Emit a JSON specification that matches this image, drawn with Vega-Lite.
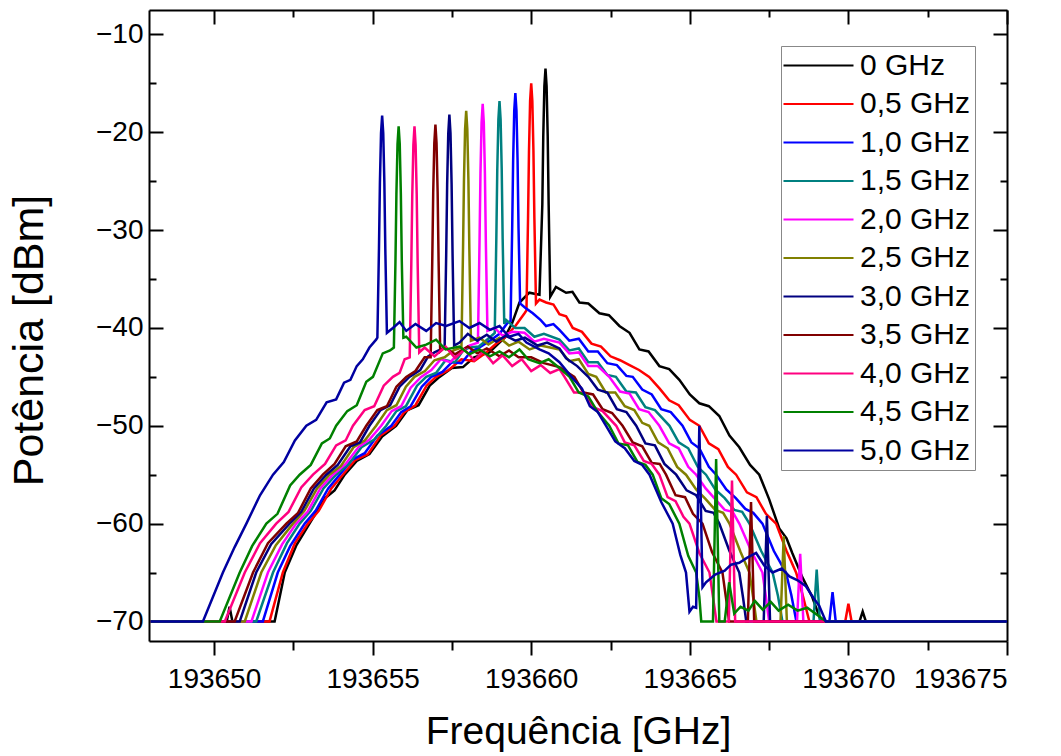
{
"$schema": "https://vega.github.io/schema/vega-lite/v6.json",
"width": 858, "height": 631,
"autosize": {"type": "none"},
"padding": {"left": 149, "top": 10, "right": 54, "bottom": 115},
"background": "white",
"config": {
  "view": {"stroke": null},
  "font": "Liberation Sans",
  "axis": {"labelFont": "Liberation Sans", "labelFontSize": 28, "labelColor": "black", "titleFont": "Liberation Sans", "titleFontWeight": "normal", "titleColor": "black", "domainColor": "black", "domainWidth": 2, "tickColor": "black", "tickWidth": 2, "grid": false},
  "legend": {"labelFont": "Liberation Sans", "labelColor": "black"}
},
"data": {"values": [
{"s":"0 GHz","f":193648,"p":-70},{"s":"0 GHz","f":193650.4,"p":-70},{"s":"0 GHz","f":193650.49,"p":-68.5},{"s":"0 GHz","f":193650.58,"p":-70},{"s":"0 GHz","f":193651.91,"p":-70},{"s":"0 GHz","f":193652.23,"p":-65},{"s":"0 GHz","f":193652.6,"p":-62.2},{"s":"0 GHz","f":193653.01,"p":-60},{"s":"0 GHz","f":193653.5,"p":-57.4},{"s":"0 GHz","f":193653.8,"p":-56.6},{"s":"0 GHz","f":193654.12,"p":-55},{"s":"0 GHz","f":193654.5,"p":-53.6},{"s":"0 GHz","f":193654.9,"p":-52.9},{"s":"0 GHz","f":193655.3,"p":-51.1},{"s":"0 GHz","f":193655.74,"p":-50},{"s":"0 GHz","f":193656.1,"p":-48.4},{"s":"0 GHz","f":193656.45,"p":-47.9},{"s":"0 GHz","f":193656.8,"p":-45.9},{"s":"0 GHz","f":193657.11,"p":-45},{"s":"0 GHz","f":193657.5,"p":-44.1},{"s":"0 GHz","f":193657.85,"p":-44.0},{"s":"0 GHz","f":193658.2,"p":-43.0},{"s":"0 GHz","f":193658.68,"p":-42.5},{"s":"0 GHz","f":193659.16,"p":-41},{"s":"0 GHz","f":193659.4,"p":-39.5},{"s":"0 GHz","f":193659.63,"p":-37.4},{"s":"0 GHz","f":193659.94,"p":-36.4},{"s":"0 GHz","f":193660.26,"p":-36.6},{"s":"0 GHz","f":193660.35,"p":-27.4},{"s":"0 GHz","f":193660.38,"p":-20.4},{"s":"0 GHz","f":193660.415,"p":-15.3},{"s":"0 GHz","f":193660.45,"p":-13.5},{"s":"0 GHz","f":193660.485,"p":-15.3},{"s":"0 GHz","f":193660.52,"p":-20.4},{"s":"0 GHz","f":193660.55,"p":-27.4},{"s":"0 GHz","f":193660.6,"p":-36.8},{"s":"0 GHz","f":193660.78,"p":-35.8},{"s":"0 GHz","f":193661.1,"p":-36.4},{"s":"0 GHz","f":193661.3,"p":-36.3},{"s":"0 GHz","f":193661.52,"p":-37.4},{"s":"0 GHz","f":193661.8,"p":-37.5},{"s":"0 GHz","f":193662.15,"p":-38.5},{"s":"0 GHz","f":193662.45,"p":-38.7},{"s":"0 GHz","f":193662.78,"p":-39.8},{"s":"0 GHz","f":193663.1,"p":-40.5},{"s":"0 GHz","f":193663.41,"p":-42.2},{"s":"0 GHz","f":193663.7,"p":-42.4},{"s":"0 GHz","f":193664.04,"p":-43.9},{"s":"0 GHz","f":193664.35,"p":-44.2},{"s":"0 GHz","f":193664.67,"p":-45.3},{"s":"0 GHz","f":193665.0,"p":-46.8},{"s":"0 GHz","f":193665.3,"p":-47.7},{"s":"0 GHz","f":193665.6,"p":-48.0},{"s":"0 GHz","f":193665.93,"p":-49.0},{"s":"0 GHz","f":193666.25,"p":-51.0},{"s":"0 GHz","f":193666.56,"p":-52.2},{"s":"0 GHz","f":193666.9,"p":-54.0},{"s":"0 GHz","f":193667.19,"p":-55},{"s":"0 GHz","f":193667.5,"p":-57.5},{"s":"0 GHz","f":193667.82,"p":-60.5},{"s":"0 GHz","f":193668.05,"p":-61.5},{"s":"0 GHz","f":193668.23,"p":-63},{"s":"0 GHz","f":193668.55,"p":-65.5},{"s":"0 GHz","f":193668.86,"p":-67.5},{"s":"0 GHz","f":193669.14,"p":-70},{"s":"0 GHz","f":193670.35,"p":-70},{"s":"0 GHz","f":193670.45,"p":-69},{"s":"0 GHz","f":193670.55,"p":-70},{"s":"0 GHz","f":193675,"p":-70},

{"s":"0,5 GHz","f":193648,"p":-70},{"s":"0,5 GHz","f":193651.75,"p":-70},{"s":"0,5 GHz","f":193652.17,"p":-65},{"s":"0,5 GHz","f":193652.55,"p":-62.0},{"s":"0,5 GHz","f":193652.96,"p":-60},{"s":"0,5 GHz","f":193653.3,"p":-58.7},{"s":"0,5 GHz","f":193653.7,"p":-56.4},{"s":"0,5 GHz","f":193654.06,"p":-55},{"s":"0,5 GHz","f":193654.45,"p":-53.5},{"s":"0,5 GHz","f":193654.85,"p":-52.9},{"s":"0,5 GHz","f":193655.25,"p":-51.0},{"s":"0,5 GHz","f":193655.69,"p":-50},{"s":"0,5 GHz","f":193656.0,"p":-48.6},{"s":"0,5 GHz","f":193656.35,"p":-47.9},{"s":"0,5 GHz","f":193656.7,"p":-45.9},{"s":"0,5 GHz","f":193657.0,"p":-45},{"s":"0,5 GHz","f":193657.4,"p":-44.3},{"s":"0,5 GHz","f":193657.8,"p":-43.2},{"s":"0,5 GHz","f":193658.2,"p":-43.4},{"s":"0,5 GHz","f":193658.58,"p":-42.5},{"s":"0,5 GHz","f":193658.9,"p":-41.6},{"s":"0,5 GHz","f":193659.16,"p":-41},{"s":"0,5 GHz","f":193659.5,"p":-39.8},{"s":"0,5 GHz","f":193659.79,"p":-38.5},{"s":"0,5 GHz","f":193659.85,"p":-38.2},{"s":"0,5 GHz","f":193659.9,"p":-28.8},{"s":"0,5 GHz","f":193659.93,"p":-21.9},{"s":"0,5 GHz","f":193659.965,"p":-16.8},{"s":"0,5 GHz","f":193660.0,"p":-15.0},{"s":"0,5 GHz","f":193660.035,"p":-16.8},{"s":"0,5 GHz","f":193660.07,"p":-21.9},{"s":"0,5 GHz","f":193660.1,"p":-28.8},{"s":"0,5 GHz","f":193660.15,"p":-37.5},{"s":"0,5 GHz","f":193660.26,"p":-37.1},{"s":"0,5 GHz","f":193660.47,"p":-37.4},{"s":"0,5 GHz","f":193660.7,"p":-37.6},{"s":"0,5 GHz","f":193660.89,"p":-38.6},{"s":"0,5 GHz","f":193661.1,"p":-38.8},{"s":"0,5 GHz","f":193661.31,"p":-40},{"s":"0,5 GHz","f":193661.6,"p":-40.4},{"s":"0,5 GHz","f":193661.9,"p":-41.6},{"s":"0,5 GHz","f":193662.2,"p":-41.9},{"s":"0,5 GHz","f":193662.5,"p":-42.9},{"s":"0,5 GHz","f":193662.8,"p":-43.3},{"s":"0,5 GHz","f":193663.1,"p":-43.8},{"s":"0,5 GHz","f":193663.4,"p":-44.3},{"s":"0,5 GHz","f":193663.72,"p":-45},{"s":"0,5 GHz","f":193664.05,"p":-46.2},{"s":"0,5 GHz","f":193664.35,"p":-47.4},{"s":"0,5 GHz","f":193664.65,"p":-47.9},{"s":"0,5 GHz","f":193665.0,"p":-49.4},{"s":"0,5 GHz","f":193665.3,"p":-50},{"s":"0,5 GHz","f":193665.6,"p":-51.8},{"s":"0,5 GHz","f":193665.9,"p":-52.4},{"s":"0,5 GHz","f":193666.2,"p":-54.2},{"s":"0,5 GHz","f":193666.46,"p":-55},{"s":"0,5 GHz","f":193666.8,"p":-56.8},{"s":"0,5 GHz","f":193667.1,"p":-57.3},{"s":"0,5 GHz","f":193667.4,"p":-59.0},{"s":"0,5 GHz","f":193667.72,"p":-60},{"s":"0,5 GHz","f":193668.05,"p":-62.8},{"s":"0,5 GHz","f":193668.35,"p":-65},{"s":"0,5 GHz","f":193668.55,"p":-67.2},{"s":"0,5 GHz","f":193668.77,"p":-70},{"s":"0,5 GHz","f":193669.9,"p":-70},{"s":"0,5 GHz","f":193670.0,"p":-68.2},{"s":"0,5 GHz","f":193670.1,"p":-70},{"s":"0,5 GHz","f":193675,"p":-70},

{"s":"1,0 GHz","f":193648,"p":-70},{"s":"1,0 GHz","f":193651.54,"p":-70},{"s":"1,0 GHz","f":193652.01,"p":-65},{"s":"1,0 GHz","f":193652.4,"p":-62.3},{"s":"1,0 GHz","f":193652.86,"p":-60},{"s":"1,0 GHz","f":193653.2,"p":-58.7},{"s":"1,0 GHz","f":193653.6,"p":-56.4},{"s":"1,0 GHz","f":193653.96,"p":-55},{"s":"1,0 GHz","f":193654.35,"p":-53.5},{"s":"1,0 GHz","f":193654.75,"p":-52.8},{"s":"1,0 GHz","f":193655.15,"p":-51.0},{"s":"1,0 GHz","f":193655.59,"p":-50},{"s":"1,0 GHz","f":193655.9,"p":-48.6},{"s":"1,0 GHz","f":193656.2,"p":-48.0},{"s":"1,0 GHz","f":193656.55,"p":-46.0},{"s":"1,0 GHz","f":193656.85,"p":-45},{"s":"1,0 GHz","f":193657.2,"p":-44.5},{"s":"1,0 GHz","f":193657.5,"p":-43.5},{"s":"1,0 GHz","f":193657.8,"p":-43.6},{"s":"1,0 GHz","f":193658.1,"p":-42.4},{"s":"1,0 GHz","f":193658.37,"p":-42},{"s":"1,0 GHz","f":193658.7,"p":-41.3},{"s":"1,0 GHz","f":193659.0,"p":-40.6},{"s":"1,0 GHz","f":193659.25,"p":-39.5},{"s":"1,0 GHz","f":193659.35,"p":-39.3},{"s":"1,0 GHz","f":193659.4,"p":-29.8},{"s":"1,0 GHz","f":193659.43,"p":-22.9},{"s":"1,0 GHz","f":193659.465,"p":-17.8},{"s":"1,0 GHz","f":193659.5,"p":-16.0},{"s":"1,0 GHz","f":193659.535,"p":-17.8},{"s":"1,0 GHz","f":193659.57,"p":-22.9},{"s":"1,0 GHz","f":193659.6,"p":-29.8},{"s":"1,0 GHz","f":193659.65,"p":-37.5},{"s":"1,0 GHz","f":193659.8,"p":-37.9},{"s":"1,0 GHz","f":193660.05,"p":-38.5},{"s":"1,0 GHz","f":193660.3,"p":-39.2},{"s":"1,0 GHz","f":193660.47,"p":-39.8},{"s":"1,0 GHz","f":193660.7,"p":-39.6},{"s":"1,0 GHz","f":193660.89,"p":-40.2},{"s":"1,0 GHz","f":193661.2,"p":-41.3},{"s":"1,0 GHz","f":193661.5,"p":-41.1},{"s":"1,0 GHz","f":193661.8,"p":-42.4},{"s":"1,0 GHz","f":193662.1,"p":-42.4},{"s":"1,0 GHz","f":193662.4,"p":-43.6},{"s":"1,0 GHz","f":193662.7,"p":-43.8},{"s":"1,0 GHz","f":193663.0,"p":-44.9},{"s":"1,0 GHz","f":193663.2,"p":-45},{"s":"1,0 GHz","f":193663.5,"p":-46.3},{"s":"1,0 GHz","f":193663.8,"p":-46.8},{"s":"1,0 GHz","f":193664.1,"p":-48.3},{"s":"1,0 GHz","f":193664.4,"p":-48.6},{"s":"1,0 GHz","f":193664.77,"p":-50},{"s":"1,0 GHz","f":193665.05,"p":-51.7},{"s":"1,0 GHz","f":193665.3,"p":-52.3},{"s":"1,0 GHz","f":193665.6,"p":-54.2},{"s":"1,0 GHz","f":193665.83,"p":-55},{"s":"1,0 GHz","f":193666.15,"p":-56.5},{"s":"1,0 GHz","f":193666.45,"p":-57.4},{"s":"1,0 GHz","f":193666.75,"p":-58.5},{"s":"1,0 GHz","f":193667.0,"p":-58.9},{"s":"1,0 GHz","f":193667.29,"p":-60},{"s":"1,0 GHz","f":193667.65,"p":-62.8},{"s":"1,0 GHz","f":193668.03,"p":-65},{"s":"1,0 GHz","f":193668.2,"p":-67.3},{"s":"1,0 GHz","f":193668.36,"p":-70},{"s":"1,0 GHz","f":193669.4,"p":-70},{"s":"1,0 GHz","f":193669.5,"p":-67},{"s":"1,0 GHz","f":193669.6,"p":-70},{"s":"1,0 GHz","f":193675,"p":-70},

{"s":"1,5 GHz","f":193648,"p":-70},{"s":"1,5 GHz","f":193651.33,"p":-70},{"s":"1,5 GHz","f":193651.86,"p":-65},{"s":"1,5 GHz","f":193652.3,"p":-62.0},{"s":"1,5 GHz","f":193652.7,"p":-60},{"s":"1,5 GHz","f":193653.05,"p":-58.7},{"s":"1,5 GHz","f":193653.45,"p":-56.4},{"s":"1,5 GHz","f":193653.85,"p":-55},{"s":"1,5 GHz","f":193654.25,"p":-53.9},{"s":"1,5 GHz","f":193654.65,"p":-52.2},{"s":"1,5 GHz","f":193655.05,"p":-51.4},{"s":"1,5 GHz","f":193655.43,"p":-50},{"s":"1,5 GHz","f":193655.75,"p":-48.5},{"s":"1,5 GHz","f":193656.05,"p":-48.0},{"s":"1,5 GHz","f":193656.4,"p":-45.9},{"s":"1,5 GHz","f":193656.69,"p":-45},{"s":"1,5 GHz","f":193657.0,"p":-44.6},{"s":"1,5 GHz","f":193657.3,"p":-43.3},{"s":"1,5 GHz","f":193657.6,"p":-43.5},{"s":"1,5 GHz","f":193657.85,"p":-42.3},{"s":"1,5 GHz","f":193658.05,"p":-42},{"s":"1,5 GHz","f":193658.35,"p":-41.9},{"s":"1,5 GHz","f":193658.68,"p":-41},{"s":"1,5 GHz","f":193658.85,"p":-40.5},{"s":"1,5 GHz","f":193658.9,"p":-30.9},{"s":"1,5 GHz","f":193658.93,"p":-23.8},{"s":"1,5 GHz","f":193658.965,"p":-18.7},{"s":"1,5 GHz","f":193659.0,"p":-16.8},{"s":"1,5 GHz","f":193659.035,"p":-18.7},{"s":"1,5 GHz","f":193659.07,"p":-23.8},{"s":"1,5 GHz","f":193659.1,"p":-30.9},{"s":"1,5 GHz","f":193659.15,"p":-39.6},{"s":"1,5 GHz","f":193659.21,"p":-39.2},{"s":"1,5 GHz","f":193659.5,"p":-40.0},{"s":"1,5 GHz","f":193659.79,"p":-40.0},{"s":"1,5 GHz","f":193660.1,"p":-40.9},{"s":"1,5 GHz","f":193660.4,"p":-40.6},{"s":"1,5 GHz","f":193660.89,"p":-41.2},{"s":"1,5 GHz","f":193661.2,"p":-42.3},{"s":"1,5 GHz","f":193661.5,"p":-42.1},{"s":"1,5 GHz","f":193661.8,"p":-43.5},{"s":"1,5 GHz","f":193662.1,"p":-43.5},{"s":"1,5 GHz","f":193662.4,"p":-44.8},{"s":"1,5 GHz","f":193662.67,"p":-45},{"s":"1,5 GHz","f":193663.0,"p":-46.5},{"s":"1,5 GHz","f":193663.3,"p":-46.6},{"s":"1,5 GHz","f":193663.6,"p":-48.1},{"s":"1,5 GHz","f":193663.9,"p":-48.4},{"s":"1,5 GHz","f":193664.36,"p":-50},{"s":"1,5 GHz","f":193664.65,"p":-51.7},{"s":"1,5 GHz","f":193664.95,"p":-52.3},{"s":"1,5 GHz","f":193665.25,"p":-54.2},{"s":"1,5 GHz","f":193665.51,"p":-55},{"s":"1,5 GHz","f":193665.8,"p":-56.5},{"s":"1,5 GHz","f":193666.1,"p":-57.4},{"s":"1,5 GHz","f":193666.4,"p":-58.6},{"s":"1,5 GHz","f":193666.65,"p":-58.8},{"s":"1,5 GHz","f":193666.88,"p":-60},{"s":"1,5 GHz","f":193667.25,"p":-62.8},{"s":"1,5 GHz","f":193667.61,"p":-65},{"s":"1,5 GHz","f":193667.78,"p":-67.4},{"s":"1,5 GHz","f":193667.92,"p":-70},{"s":"1,5 GHz","f":193668.9,"p":-70},{"s":"1,5 GHz","f":193669.0,"p":-64.7},{"s":"1,5 GHz","f":193669.1,"p":-70},{"s":"1,5 GHz","f":193675,"p":-70},

{"s":"2,0 GHz","f":193648,"p":-70},{"s":"2,0 GHz","f":193651.18,"p":-70},{"s":"2,0 GHz","f":193651.7,"p":-65},{"s":"2,0 GHz","f":193652.15,"p":-62.1},{"s":"2,0 GHz","f":193652.59,"p":-60},{"s":"2,0 GHz","f":193652.95,"p":-58.8},{"s":"2,0 GHz","f":193653.35,"p":-56.4},{"s":"2,0 GHz","f":193653.75,"p":-55},{"s":"2,0 GHz","f":193654.15,"p":-53.9},{"s":"2,0 GHz","f":193654.55,"p":-52.2},{"s":"2,0 GHz","f":193654.9,"p":-51.4},{"s":"2,0 GHz","f":193655.27,"p":-50},{"s":"2,0 GHz","f":193655.6,"p":-48.5},{"s":"2,0 GHz","f":193655.9,"p":-48.0},{"s":"2,0 GHz","f":193656.2,"p":-46.1},{"s":"2,0 GHz","f":193656.53,"p":-45},{"s":"2,0 GHz","f":193656.85,"p":-44.3},{"s":"2,0 GHz","f":193657.15,"p":-43.2},{"s":"2,0 GHz","f":193657.45,"p":-43.5},{"s":"2,0 GHz","f":193657.74,"p":-42.5},{"s":"2,0 GHz","f":193658.05,"p":-41.8},{"s":"2,0 GHz","f":193658.32,"p":-41.5},{"s":"2,0 GHz","f":193658.37,"p":-31.3},{"s":"2,0 GHz","f":193658.4,"p":-24.2},{"s":"2,0 GHz","f":193658.435,"p":-19.0},{"s":"2,0 GHz","f":193658.47,"p":-17.1},{"s":"2,0 GHz","f":193658.505,"p":-19.0},{"s":"2,0 GHz","f":193658.54,"p":-24.2},{"s":"2,0 GHz","f":193658.57,"p":-31.3},{"s":"2,0 GHz","f":193658.62,"p":-40.3},{"s":"2,0 GHz","f":193658.84,"p":-40},{"s":"2,0 GHz","f":193659.1,"p":-40.8},{"s":"2,0 GHz","f":193659.4,"p":-40.4},{"s":"2,0 GHz","f":193659.79,"p":-40.5},{"s":"2,0 GHz","f":193660.1,"p":-41.4},{"s":"2,0 GHz","f":193660.4,"p":-41.1},{"s":"2,0 GHz","f":193660.89,"p":-41.5},{"s":"2,0 GHz","f":193661.2,"p":-42.6},{"s":"2,0 GHz","f":193661.5,"p":-42.5},{"s":"2,0 GHz","f":193661.8,"p":-43.9},{"s":"2,0 GHz","f":193662.1,"p":-43.9},{"s":"2,0 GHz","f":193662.46,"p":-45},{"s":"2,0 GHz","f":193662.8,"p":-46.5},{"s":"2,0 GHz","f":193663.1,"p":-46.7},{"s":"2,0 GHz","f":193663.4,"p":-48.3},{"s":"2,0 GHz","f":193663.7,"p":-48.6},{"s":"2,0 GHz","f":193664.04,"p":-50},{"s":"2,0 GHz","f":193664.35,"p":-51.8},{"s":"2,0 GHz","f":193664.65,"p":-52.3},{"s":"2,0 GHz","f":193664.95,"p":-54.2},{"s":"2,0 GHz","f":193665.2,"p":-55},{"s":"2,0 GHz","f":193665.5,"p":-56.4},{"s":"2,0 GHz","f":193665.8,"p":-57.5},{"s":"2,0 GHz","f":193666.1,"p":-58.6},{"s":"2,0 GHz","f":193666.35,"p":-58.8},{"s":"2,0 GHz","f":193666.56,"p":-60},{"s":"2,0 GHz","f":193666.95,"p":-62.9},{"s":"2,0 GHz","f":193667.29,"p":-65},{"s":"2,0 GHz","f":193667.4,"p":-67.5},{"s":"2,0 GHz","f":193667.5,"p":-70},{"s":"2,0 GHz","f":193668.38,"p":-70},{"s":"2,0 GHz","f":193668.48,"p":-63.1},{"s":"2,0 GHz","f":193668.58,"p":-70},{"s":"2,0 GHz","f":193675,"p":-70},

{"s":"2,5 GHz","f":193648,"p":-70},{"s":"2,5 GHz","f":193650.97,"p":-70},{"s":"2,5 GHz","f":193651.49,"p":-65},{"s":"2,5 GHz","f":193651.95,"p":-62.2},{"s":"2,5 GHz","f":193652.49,"p":-60},{"s":"2,5 GHz","f":193652.85,"p":-58.7},{"s":"2,5 GHz","f":193653.25,"p":-56.4},{"s":"2,5 GHz","f":193653.64,"p":-55},{"s":"2,5 GHz","f":193654.0,"p":-54.1},{"s":"2,5 GHz","f":193654.4,"p":-52.2},{"s":"2,5 GHz","f":193654.75,"p":-51.5},{"s":"2,5 GHz","f":193655.11,"p":-50},{"s":"2,5 GHz","f":193655.45,"p":-48.4},{"s":"2,5 GHz","f":193655.75,"p":-47.9},{"s":"2,5 GHz","f":193656.05,"p":-46.0},{"s":"2,5 GHz","f":193656.32,"p":-45},{"s":"2,5 GHz","f":193656.65,"p":-44.4},{"s":"2,5 GHz","f":193656.95,"p":-43.3},{"s":"2,5 GHz","f":193657.27,"p":-43},{"s":"2,5 GHz","f":193657.55,"p":-42.3},{"s":"2,5 GHz","f":193657.8,"p":-42},{"s":"2,5 GHz","f":193657.85,"p":-32.0},{"s":"2,5 GHz","f":193657.88,"p":-24.9},{"s":"2,5 GHz","f":193657.915,"p":-19.7},{"s":"2,5 GHz","f":193657.95,"p":-17.8},{"s":"2,5 GHz","f":193657.985,"p":-19.7},{"s":"2,5 GHz","f":193658.02,"p":-24.9},{"s":"2,5 GHz","f":193658.05,"p":-32.0},{"s":"2,5 GHz","f":193658.1,"p":-41.3},{"s":"2,5 GHz","f":193658.37,"p":-41},{"s":"2,5 GHz","f":193658.65,"p":-41.7},{"s":"2,5 GHz","f":193659.0,"p":-41.0},{"s":"2,5 GHz","f":193659.3,"p":-41.8},{"s":"2,5 GHz","f":193659.6,"p":-41.4},{"s":"2,5 GHz","f":193659.95,"p":-42.2},{"s":"2,5 GHz","f":193660.3,"p":-41.8},{"s":"2,5 GHz","f":193660.89,"p":-42.2},{"s":"2,5 GHz","f":193661.2,"p":-43.4},{"s":"2,5 GHz","f":193661.5,"p":-43.2},{"s":"2,5 GHz","f":193661.8,"p":-44.7},{"s":"2,5 GHz","f":193662.05,"p":-45},{"s":"2,5 GHz","f":193662.35,"p":-46.6},{"s":"2,5 GHz","f":193662.65,"p":-46.6},{"s":"2,5 GHz","f":193662.95,"p":-48.0},{"s":"2,5 GHz","f":193663.25,"p":-48.4},{"s":"2,5 GHz","f":193663.5,"p":-49.7},{"s":"2,5 GHz","f":193663.72,"p":-50},{"s":"2,5 GHz","f":193664.0,"p":-51.7},{"s":"2,5 GHz","f":193664.3,"p":-52.3},{"s":"2,5 GHz","f":193664.6,"p":-54.2},{"s":"2,5 GHz","f":193664.88,"p":-55},{"s":"2,5 GHz","f":193665.2,"p":-56.5},{"s":"2,5 GHz","f":193665.5,"p":-57.5},{"s":"2,5 GHz","f":193665.8,"p":-58.6},{"s":"2,5 GHz","f":193666.05,"p":-58.9},{"s":"2,5 GHz","f":193666.25,"p":-60},{"s":"2,5 GHz","f":193666.6,"p":-62.9},{"s":"2,5 GHz","f":193666.88,"p":-65},{"s":"2,5 GHz","f":193667.0,"p":-67.6},{"s":"2,5 GHz","f":193667.1,"p":-70},{"s":"2,5 GHz","f":193667.86,"p":-70},{"s":"2,5 GHz","f":193667.96,"p":-61.3},{"s":"2,5 GHz","f":193668.06,"p":-70},{"s":"2,5 GHz","f":193675,"p":-70},

{"s":"3,0 GHz","f":193648,"p":-70},{"s":"3,0 GHz","f":193650.81,"p":-70},{"s":"3,0 GHz","f":193651.33,"p":-65},{"s":"3,0 GHz","f":193651.8,"p":-62.1},{"s":"3,0 GHz","f":193652.38,"p":-60},{"s":"3,0 GHz","f":193652.75,"p":-58.8},{"s":"3,0 GHz","f":193653.15,"p":-56.4},{"s":"3,0 GHz","f":193653.54,"p":-55},{"s":"3,0 GHz","f":193653.9,"p":-54.0},{"s":"3,0 GHz","f":193654.3,"p":-52.1},{"s":"3,0 GHz","f":193654.6,"p":-51.7},{"s":"3,0 GHz","f":193654.9,"p":-50},{"s":"3,0 GHz","f":193655.25,"p":-48.4},{"s":"3,0 GHz","f":193655.55,"p":-47.9},{"s":"3,0 GHz","f":193655.85,"p":-46.0},{"s":"3,0 GHz","f":193656.16,"p":-45},{"s":"3,0 GHz","f":193656.5,"p":-44.3},{"s":"3,0 GHz","f":193656.75,"p":-42.9},{"s":"3,0 GHz","f":193656.95,"p":-42.5},{"s":"3,0 GHz","f":193657.15,"p":-42.2},{"s":"3,0 GHz","f":193657.27,"p":-42},{"s":"3,0 GHz","f":193657.32,"p":-32.4},{"s":"3,0 GHz","f":193657.35,"p":-25.3},{"s":"3,0 GHz","f":193657.385,"p":-20.1},{"s":"3,0 GHz","f":193657.42,"p":-18.2},{"s":"3,0 GHz","f":193657.455,"p":-20.1},{"s":"3,0 GHz","f":193657.49,"p":-25.3},{"s":"3,0 GHz","f":193657.52,"p":-32.4},{"s":"3,0 GHz","f":193657.57,"p":-41.8},{"s":"3,0 GHz","f":193657.74,"p":-41.5},{"s":"3,0 GHz","f":193658.0,"p":-40.6},{"s":"3,0 GHz","f":193658.3,"p":-41.3},{"s":"3,0 GHz","f":193658.6,"p":-40.7},{"s":"3,0 GHz","f":193658.9,"p":-41.4},{"s":"3,0 GHz","f":193659.2,"p":-40.8},{"s":"3,0 GHz","f":193659.5,"p":-41.3},{"s":"3,0 GHz","f":193659.8,"p":-41.0},{"s":"3,0 GHz","f":193660.2,"p":-41.8},{"s":"3,0 GHz","f":193660.5,"p":-41.5},{"s":"3,0 GHz","f":193660.89,"p":-42.1},{"s":"3,0 GHz","f":193661.1,"p":-43.1},{"s":"3,0 GHz","f":193661.45,"p":-43.9},{"s":"3,0 GHz","f":193661.8,"p":-45.0},{"s":"3,0 GHz","f":193662.1,"p":-46.3},{"s":"3,0 GHz","f":193662.4,"p":-46.6},{"s":"3,0 GHz","f":193662.7,"p":-48.3},{"s":"3,0 GHz","f":193663.0,"p":-48.6},{"s":"3,0 GHz","f":193663.31,"p":-50},{"s":"3,0 GHz","f":193663.6,"p":-51.8},{"s":"3,0 GHz","f":193663.9,"p":-52.0},{"s":"3,0 GHz","f":193664.2,"p":-53.9},{"s":"3,0 GHz","f":193664.57,"p":-55},{"s":"3,0 GHz","f":193664.9,"p":-56.6},{"s":"3,0 GHz","f":193665.2,"p":-57.1},{"s":"3,0 GHz","f":193665.5,"p":-58.7},{"s":"3,0 GHz","f":193665.75,"p":-58.9},{"s":"3,0 GHz","f":193665.93,"p":-60},{"s":"3,0 GHz","f":193666.25,"p":-62.8},{"s":"3,0 GHz","f":193666.56,"p":-65},{"s":"3,0 GHz","f":193666.68,"p":-67.6},{"s":"3,0 GHz","f":193666.78,"p":-70},{"s":"3,0 GHz","f":193667.33,"p":-70},{"s":"3,0 GHz","f":193667.43,"p":-59.2},{"s":"3,0 GHz","f":193667.53,"p":-70},{"s":"3,0 GHz","f":193675,"p":-70},

{"s":"3,5 GHz","f":193648,"p":-70},{"s":"3,5 GHz","f":193650.65,"p":-70},{"s":"3,5 GHz","f":193651.23,"p":-65},{"s":"3,5 GHz","f":193651.7,"p":-62.0},{"s":"3,5 GHz","f":193652.28,"p":-60},{"s":"3,5 GHz","f":193652.65,"p":-58.9},{"s":"3,5 GHz","f":193653.05,"p":-56.4},{"s":"3,5 GHz","f":193653.43,"p":-55},{"s":"3,5 GHz","f":193653.8,"p":-53.9},{"s":"3,5 GHz","f":193654.15,"p":-52.1},{"s":"3,5 GHz","f":193654.5,"p":-51.6},{"s":"3,5 GHz","f":193654.8,"p":-50},{"s":"3,5 GHz","f":193655.15,"p":-48.4},{"s":"3,5 GHz","f":193655.45,"p":-48.0},{"s":"3,5 GHz","f":193655.75,"p":-46.0},{"s":"3,5 GHz","f":193656.06,"p":-45},{"s":"3,5 GHz","f":193656.35,"p":-44.4},{"s":"3,5 GHz","f":193656.64,"p":-43},{"s":"3,5 GHz","f":193656.83,"p":-43},{"s":"3,5 GHz","f":193656.88,"p":-33.2},{"s":"3,5 GHz","f":193656.91,"p":-26.2},{"s":"3,5 GHz","f":193656.945,"p":-21.1},{"s":"3,5 GHz","f":193656.98,"p":-19.2},{"s":"3,5 GHz","f":193657.015,"p":-21.1},{"s":"3,5 GHz","f":193657.05,"p":-26.2},{"s":"3,5 GHz","f":193657.08,"p":-33.2},{"s":"3,5 GHz","f":193657.13,"p":-42.4},{"s":"3,5 GHz","f":193657.27,"p":-42},{"s":"3,5 GHz","f":193657.6,"p":-42.7},{"s":"3,5 GHz","f":193658.0,"p":-41.9},{"s":"3,5 GHz","f":193658.3,"p":-42.6},{"s":"3,5 GHz","f":193658.6,"p":-42.1},{"s":"3,5 GHz","f":193659.0,"p":-42.9},{"s":"3,5 GHz","f":193659.3,"p":-42.3},{"s":"3,5 GHz","f":193659.6,"p":-43.0},{"s":"3,5 GHz","f":193660.0,"p":-43.0},{"s":"3,5 GHz","f":193660.4,"p":-43.6},{"s":"3,5 GHz","f":193660.89,"p":-44.0},{"s":"3,5 GHz","f":193661.36,"p":-45},{"s":"3,5 GHz","f":193661.65,"p":-46.6},{"s":"3,5 GHz","f":193661.95,"p":-46.8},{"s":"3,5 GHz","f":193662.25,"p":-48.3},{"s":"3,5 GHz","f":193662.55,"p":-48.7},{"s":"3,5 GHz","f":193662.88,"p":-50},{"s":"3,5 GHz","f":193663.2,"p":-51.7},{"s":"3,5 GHz","f":193663.5,"p":-52.1},{"s":"3,5 GHz","f":193663.8,"p":-53.8},{"s":"3,5 GHz","f":193664.05,"p":-53.9},{"s":"3,5 GHz","f":193664.25,"p":-55},{"s":"3,5 GHz","f":193664.55,"p":-57.1},{"s":"3,5 GHz","f":193664.85,"p":-57.3},{"s":"3,5 GHz","f":193665.1,"p":-59.0},{"s":"3,5 GHz","f":193665.4,"p":-60},{"s":"3,5 GHz","f":193665.7,"p":-62.9},{"s":"3,5 GHz","f":193666.03,"p":-65},{"s":"3,5 GHz","f":193666.14,"p":-67.6},{"s":"3,5 GHz","f":193666.24,"p":-70},{"s":"3,5 GHz","f":193666.83,"p":-70},{"s":"3,5 GHz","f":193666.93,"p":-57.8},{"s":"3,5 GHz","f":193667.03,"p":-70},{"s":"3,5 GHz","f":193675,"p":-70},

{"s":"4,0 GHz","f":193648,"p":-70},{"s":"4,0 GHz","f":193650.34,"p":-70},{"s":"4,0 GHz","f":193650.97,"p":-65},{"s":"4,0 GHz","f":193651.45,"p":-62.0},{"s":"4,0 GHz","f":193651.96,"p":-60},{"s":"4,0 GHz","f":193652.35,"p":-58.8},{"s":"4,0 GHz","f":193652.75,"p":-56.3},{"s":"4,0 GHz","f":193653.12,"p":-55},{"s":"4,0 GHz","f":193653.5,"p":-53.9},{"s":"4,0 GHz","f":193653.85,"p":-52.0},{"s":"4,0 GHz","f":193654.15,"p":-51.5},{"s":"4,0 GHz","f":193654.38,"p":-50},{"s":"4,0 GHz","f":193654.75,"p":-48.4},{"s":"4,0 GHz","f":193655.05,"p":-48.0},{"s":"4,0 GHz","f":193655.35,"p":-45.9},{"s":"4,0 GHz","f":193655.64,"p":-45},{"s":"4,0 GHz","f":193655.85,"p":-44.6},{"s":"4,0 GHz","f":193656.01,"p":-43.2},{"s":"4,0 GHz","f":193656.17,"p":-43},{"s":"4,0 GHz","f":193656.22,"p":-33.4},{"s":"4,0 GHz","f":193656.25,"p":-26.4},{"s":"4,0 GHz","f":193656.285,"p":-21.3},{"s":"4,0 GHz","f":193656.32,"p":-19.4},{"s":"4,0 GHz","f":193656.355,"p":-21.3},{"s":"4,0 GHz","f":193656.39,"p":-26.4},{"s":"4,0 GHz","f":193656.42,"p":-33.4},{"s":"4,0 GHz","f":193656.47,"p":-42.5},{"s":"4,0 GHz","f":193656.64,"p":-42},{"s":"4,0 GHz","f":193656.95,"p":-42.9},{"s":"4,0 GHz","f":193657.3,"p":-41.9},{"s":"4,0 GHz","f":193657.6,"p":-43.1},{"s":"4,0 GHz","f":193657.9,"p":-42.2},{"s":"4,0 GHz","f":193658.2,"p":-43.3},{"s":"4,0 GHz","f":193658.5,"p":-42.4},{"s":"4,0 GHz","f":193658.8,"p":-43.6},{"s":"4,0 GHz","f":193659.1,"p":-42.8},{"s":"4,0 GHz","f":193659.4,"p":-43.9},{"s":"4,0 GHz","f":193659.7,"p":-43.2},{"s":"4,0 GHz","f":193660.0,"p":-44.4},{"s":"4,0 GHz","f":193660.3,"p":-43.8},{"s":"4,0 GHz","f":193660.6,"p":-44.6},{"s":"4,0 GHz","f":193660.89,"p":-44.2},{"s":"4,0 GHz","f":193661.05,"p":-45},{"s":"4,0 GHz","f":193661.35,"p":-46.6},{"s":"4,0 GHz","f":193661.65,"p":-46.6},{"s":"4,0 GHz","f":193661.95,"p":-48.1},{"s":"4,0 GHz","f":193662.25,"p":-48.5},{"s":"4,0 GHz","f":193662.68,"p":-50},{"s":"4,0 GHz","f":193662.95,"p":-51.7},{"s":"4,0 GHz","f":193663.25,"p":-52.0},{"s":"4,0 GHz","f":193663.55,"p":-53.6},{"s":"4,0 GHz","f":193663.8,"p":-53.9},{"s":"4,0 GHz","f":193664.04,"p":-55},{"s":"4,0 GHz","f":193664.3,"p":-57.3},{"s":"4,0 GHz","f":193664.55,"p":-57.7},{"s":"4,0 GHz","f":193664.8,"p":-59.3},{"s":"4,0 GHz","f":193664.99,"p":-60},{"s":"4,0 GHz","f":193665.3,"p":-63.0},{"s":"4,0 GHz","f":193665.62,"p":-65},{"s":"4,0 GHz","f":193665.74,"p":-67.7},{"s":"4,0 GHz","f":193665.84,"p":-70},{"s":"4,0 GHz","f":193666.23,"p":-70},{"s":"4,0 GHz","f":193666.33,"p":-55.6},{"s":"4,0 GHz","f":193666.43,"p":-70},{"s":"4,0 GHz","f":193675,"p":-70},

{"s":"4,5 GHz","f":193648,"p":-70},{"s":"4,5 GHz","f":193650.18,"p":-70},{"s":"4,5 GHz","f":193650.81,"p":-65},{"s":"4,5 GHz","f":193651.2,"p":-62.3},{"s":"4,5 GHz","f":193651.65,"p":-60},{"s":"4,5 GHz","f":193652.0,"p":-59.0},{"s":"4,5 GHz","f":193652.4,"p":-56.1},{"s":"4,5 GHz","f":193652.7,"p":-55},{"s":"4,5 GHz","f":193653.05,"p":-54.0},{"s":"4,5 GHz","f":193653.4,"p":-51.8},{"s":"4,5 GHz","f":193653.65,"p":-51.3},{"s":"4,5 GHz","f":193653.85,"p":-50},{"s":"4,5 GHz","f":193654.2,"p":-48.5},{"s":"4,5 GHz","f":193654.5,"p":-47.9},{"s":"4,5 GHz","f":193654.8,"p":-45.5},{"s":"4,5 GHz","f":193655.01,"p":-45},{"s":"4,5 GHz","f":193655.32,"p":-42.6},{"s":"4,5 GHz","f":193655.55,"p":-42.3},{"s":"4,5 GHz","f":193655.67,"p":-42},{"s":"4,5 GHz","f":193655.72,"p":-33.2},{"s":"4,5 GHz","f":193655.75,"p":-26.3},{"s":"4,5 GHz","f":193655.785,"p":-21.2},{"s":"4,5 GHz","f":193655.82,"p":-19.4},{"s":"4,5 GHz","f":193655.855,"p":-21.2},{"s":"4,5 GHz","f":193655.89,"p":-26.3},{"s":"4,5 GHz","f":193655.92,"p":-33.2},{"s":"4,5 GHz","f":193655.97,"p":-41},{"s":"4,5 GHz","f":193656.06,"p":-40.9},{"s":"4,5 GHz","f":193656.38,"p":-42.0},{"s":"4,5 GHz","f":193656.69,"p":-41.7},{"s":"4,5 GHz","f":193657.0,"p":-41.2},{"s":"4,5 GHz","f":193657.3,"p":-42.2},{"s":"4,5 GHz","f":193657.74,"p":-41.9},{"s":"4,5 GHz","f":193658.05,"p":-42.7},{"s":"4,5 GHz","f":193658.37,"p":-42.2},{"s":"4,5 GHz","f":193658.7,"p":-42.9},{"s":"4,5 GHz","f":193659.0,"p":-42.4},{"s":"4,5 GHz","f":193659.3,"p":-43.0},{"s":"4,5 GHz","f":193659.63,"p":-42.2},{"s":"4,5 GHz","f":193659.9,"p":-43.2},{"s":"4,5 GHz","f":193660.26,"p":-43.6},{"s":"4,5 GHz","f":193660.55,"p":-43.2},{"s":"4,5 GHz","f":193660.89,"p":-44.1},{"s":"4,5 GHz","f":193661.21,"p":-45},{"s":"4,5 GHz","f":193661.5,"p":-46.6},{"s":"4,5 GHz","f":193661.8,"p":-47.0},{"s":"4,5 GHz","f":193662.1,"p":-48.6},{"s":"4,5 GHz","f":193662.46,"p":-50},{"s":"4,5 GHz","f":193662.75,"p":-51.8},{"s":"4,5 GHz","f":193663.05,"p":-52.0},{"s":"4,5 GHz","f":193663.35,"p":-53.7},{"s":"4,5 GHz","f":193663.6,"p":-54.0},{"s":"4,5 GHz","f":193663.83,"p":-55},{"s":"4,5 GHz","f":193664.1,"p":-57.4},{"s":"4,5 GHz","f":193664.35,"p":-58.0},{"s":"4,5 GHz","f":193664.67,"p":-60},{"s":"4,5 GHz","f":193664.95,"p":-63.3},{"s":"4,5 GHz","f":193665.2,"p":-65},{"s":"4,5 GHz","f":193665.3,"p":-67.5},{"s":"4,5 GHz","f":193665.36,"p":-70},{"s":"4,5 GHz","f":193665.73,"p":-70},{"s":"4,5 GHz","f":193665.83,"p":-53.4},{"s":"4,5 GHz","f":193665.93,"p":-70},{"s":"4,5 GHz","f":193666.1,"p":-70},{"s":"4,5 GHz","f":193666.24,"p":-66.0},{"s":"4,5 GHz","f":193666.4,"p":-69.2},{"s":"4,5 GHz","f":193666.6,"p":-68.5},{"s":"4,5 GHz","f":193666.85,"p":-68.9},{"s":"4,5 GHz","f":193667.05,"p":-67.9},{"s":"4,5 GHz","f":193667.3,"p":-68.8},{"s":"4,5 GHz","f":193667.55,"p":-68.0},{"s":"4,5 GHz","f":193667.8,"p":-68.9},{"s":"4,5 GHz","f":193668.1,"p":-68.3},{"s":"4,5 GHz","f":193668.4,"p":-68.9},{"s":"4,5 GHz","f":193668.7,"p":-68.6},{"s":"4,5 GHz","f":193669.0,"p":-69.3},{"s":"4,5 GHz","f":193669.3,"p":-70},{"s":"4,5 GHz","f":193675,"p":-70},

{"s":"5,0 GHz","f":193648,"p":-70},{"s":"5,0 GHz","f":193649.65,"p":-70},{"s":"5,0 GHz","f":193650.28,"p":-65},{"s":"5,0 GHz","f":193650.65,"p":-62.4},{"s":"5,0 GHz","f":193651.02,"p":-60},{"s":"5,0 GHz","f":193651.45,"p":-57.1},{"s":"5,0 GHz","f":193651.86,"p":-55},{"s":"5,0 GHz","f":193652.2,"p":-53.7},{"s":"5,0 GHz","f":193652.55,"p":-51.5},{"s":"5,0 GHz","f":193652.91,"p":-50},{"s":"5,0 GHz","f":193653.22,"p":-49.4},{"s":"5,0 GHz","f":193653.55,"p":-47.6},{"s":"5,0 GHz","f":193653.85,"p":-47.3},{"s":"5,0 GHz","f":193654.1,"p":-45.6},{"s":"5,0 GHz","f":193654.3,"p":-45.3},{"s":"5,0 GHz","f":193654.5,"p":-43.9},{"s":"5,0 GHz","f":193654.69,"p":-43.2},{"s":"5,0 GHz","f":193654.9,"p":-42.0},{"s":"5,0 GHz","f":193655.11,"p":-41.2},{"s":"5,0 GHz","f":193655.15,"p":-41},{"s":"5,0 GHz","f":193655.2,"p":-31.9},{"s":"5,0 GHz","f":193655.23,"p":-25.1},{"s":"5,0 GHz","f":193655.265,"p":-20.1},{"s":"5,0 GHz","f":193655.3,"p":-18.3},{"s":"5,0 GHz","f":193655.335,"p":-20.1},{"s":"5,0 GHz","f":193655.37,"p":-25.1},{"s":"5,0 GHz","f":193655.4,"p":-31.9},{"s":"5,0 GHz","f":193655.45,"p":-40.5},{"s":"5,0 GHz","f":193655.64,"p":-40.0},{"s":"5,0 GHz","f":193655.85,"p":-39.4},{"s":"5,0 GHz","f":193656.06,"p":-40.3},{"s":"5,0 GHz","f":193656.35,"p":-39.6},{"s":"5,0 GHz","f":193656.69,"p":-40.3},{"s":"5,0 GHz","f":193657.0,"p":-39.5},{"s":"5,0 GHz","f":193657.32,"p":-39.8},{"s":"5,0 GHz","f":193657.74,"p":-39.3},{"s":"5,0 GHz","f":193658.05,"p":-40.0},{"s":"5,0 GHz","f":193658.37,"p":-39.5},{"s":"5,0 GHz","f":193658.7,"p":-40.2},{"s":"5,0 GHz","f":193659.0,"p":-39.8},{"s":"5,0 GHz","f":193659.3,"p":-40.9},{"s":"5,0 GHz","f":193659.6,"p":-40.6},{"s":"5,0 GHz","f":193659.85,"p":-41.5},{"s":"5,0 GHz","f":193660.26,"p":-42.2},{"s":"5,0 GHz","f":193660.55,"p":-42.6},{"s":"5,0 GHz","f":193660.89,"p":-43.5},{"s":"5,0 GHz","f":193661.27,"p":-45},{"s":"5,0 GHz","f":193661.6,"p":-46.2},{"s":"5,0 GHz","f":193661.85,"p":-48.0},{"s":"5,0 GHz","f":193662.1,"p":-48.6},{"s":"5,0 GHz","f":193662.36,"p":-50},{"s":"5,0 GHz","f":193662.65,"p":-51.6},{"s":"5,0 GHz","f":193662.95,"p":-52.3},{"s":"5,0 GHz","f":193663.25,"p":-53.6},{"s":"5,0 GHz","f":193663.5,"p":-54.0},{"s":"5,0 GHz","f":193663.73,"p":-55},{"s":"5,0 GHz","f":193664.1,"p":-57.8},{"s":"5,0 GHz","f":193664.46,"p":-60},{"s":"5,0 GHz","f":193664.7,"p":-63.2},{"s":"5,0 GHz","f":193664.88,"p":-65},{"s":"5,0 GHz","f":193664.99,"p":-69},{"s":"5,0 GHz","f":193665.1,"p":-68.5},{"s":"5,0 GHz","f":193665.2,"p":-68.6},{"s":"5,0 GHz","f":193665.3,"p":-50.0},{"s":"5,0 GHz","f":193665.4,"p":-66.5},{"s":"5,0 GHz","f":193665.51,"p":-66.0},{"s":"5,0 GHz","f":193665.8,"p":-65.2},{"s":"5,0 GHz","f":193666.1,"p":-64.8},{"s":"5,0 GHz","f":193666.3,"p":-64.2},{"s":"5,0 GHz","f":193666.56,"p":-64.0},{"s":"5,0 GHz","f":193666.8,"p":-63.5},{"s":"5,0 GHz","f":193667.09,"p":-63.0},{"s":"5,0 GHz","f":193667.35,"p":-64.3},{"s":"5,0 GHz","f":193667.61,"p":-65.0},{"s":"5,0 GHz","f":193667.9,"p":-64.6},{"s":"5,0 GHz","f":193668.14,"p":-65.4},{"s":"5,0 GHz","f":193668.4,"p":-65.8},{"s":"5,0 GHz","f":193668.66,"p":-66.4},{"s":"5,0 GHz","f":193668.9,"p":-67.6},{"s":"5,0 GHz","f":193669.08,"p":-68.4},{"s":"5,0 GHz","f":193669.29,"p":-70},{"s":"5,0 GHz","f":193675,"p":-70}
]},
"layer": [
  {
    "mark": {"type": "line", "strokeWidth": 2.5},
    "encoding": {
      "x": {"field": "f", "type": "quantitative", "scale": {"domain": [193647.95, 193675], "nice": false, "zero": false},
            "axis": {"orient": "bottom", "values": [193650, 193655, 193660, 193665, 193670, 193675], "format": "d", "tickSize": 14, "labelPadding": 10, "title": "Frequência [GHz]", "titleFontSize": 39, "titleY": 102, "titleBaseline": "alphabetic"}},
      "y": {"field": "p", "type": "quantitative", "scale": {"domain": [-72, -7.5], "nice": false, "zero": false},
            "axis": {"orient": "left", "values": [-70, -60, -50, -40, -30, -20, -10], "tickSize": -14, "labelPadding": 20, "title": "Potência [dBm]", "titleFontSize": 43, "titleX": -107, "titleY": 330, "titleBaseline": "alphabetic"}},
      "color": {"field": "s", "type": "nominal",
        "scale": {"domain": ["0 GHz", "0,5 GHz", "1,0 GHz", "1,5 GHz", "2,0 GHz", "2,5 GHz", "3,0 GHz", "3,5 GHz", "4,0 GHz", "4,5 GHz", "5,0 GHz"],
                  "range": ["#000000", "#FF0000", "#0000FF", "#008080", "#FF00FF", "#808000", "#000080", "#800000", "#FF0080", "#008000", "#0000A0"]},
        "legend": {"title": null, "orient": "none", "legendX": 632, "legendY": 36, "padding": 4, "rowPadding": 7.5, "strokeColor": "#888888", "fillColor": "white", "symbolType": "M-2.5,0H2.5", "symbolSize": 784, "symbolStrokeWidth": 2.2, "symbolOffset": 18, "labelOffset": 26, "labelFontSize": 30, "labelLimit": 300}}
    }
  },
  {
    "transform": [{"filter": "datum.f < 193648.5 && datum.s == '0 GHz'"}],
    "mark": {"type": "point", "opacity": 0},
    "encoding": {
      "x": {"field": "f", "type": "quantitative", "axis": {"orient": "bottom", "values": [193652.5, 193657.5, 193662.5, 193667.5, 193672.5], "tickSize": 9, "labels": false, "domain": false, "title": null}},
      "y": {"field": "p", "type": "quantitative", "axis": {"orient": "left", "values": [-65, -55, -45, -35, -25, -15], "tickSize": -7, "labels": false, "domain": false, "title": null}}
    }
  },
  {
    "transform": [{"filter": "datum.f < 193648.5 && datum.s == '0 GHz'"}],
    "mark": {"type": "point", "opacity": 0},
    "encoding": {
      "x": {"field": "f", "type": "quantitative", "axis": {"orient": "top", "values": [193650, 193655, 193660, 193665, 193670, 193675], "tickSize": -14, "labels": false, "domain": true, "title": null}},
      "y": {"field": "p", "type": "quantitative", "axis": {"orient": "right", "values": [-70, -60, -50, -40, -30, -20, -10], "tickSize": -14, "labels": false, "domain": true, "title": null}}
    }
  },
  {
    "transform": [{"filter": "datum.f < 193648.5 && datum.s == '0 GHz'"}],
    "mark": {"type": "point", "opacity": 0},
    "encoding": {
      "x": {"field": "f", "type": "quantitative", "axis": {"orient": "top", "values": [193652.5, 193657.5, 193662.5, 193667.5, 193672.5], "tickSize": -7, "labels": false, "domain": false, "title": null}},
      "y": {"field": "p", "type": "quantitative", "axis": {"orient": "right", "values": [-65, -55, -45, -35, -25, -15], "tickSize": -7, "labels": false, "domain": false, "title": null}}
    }
  }
],
"resolve": {"axis": {"x": "independent", "y": "independent"}}
}
